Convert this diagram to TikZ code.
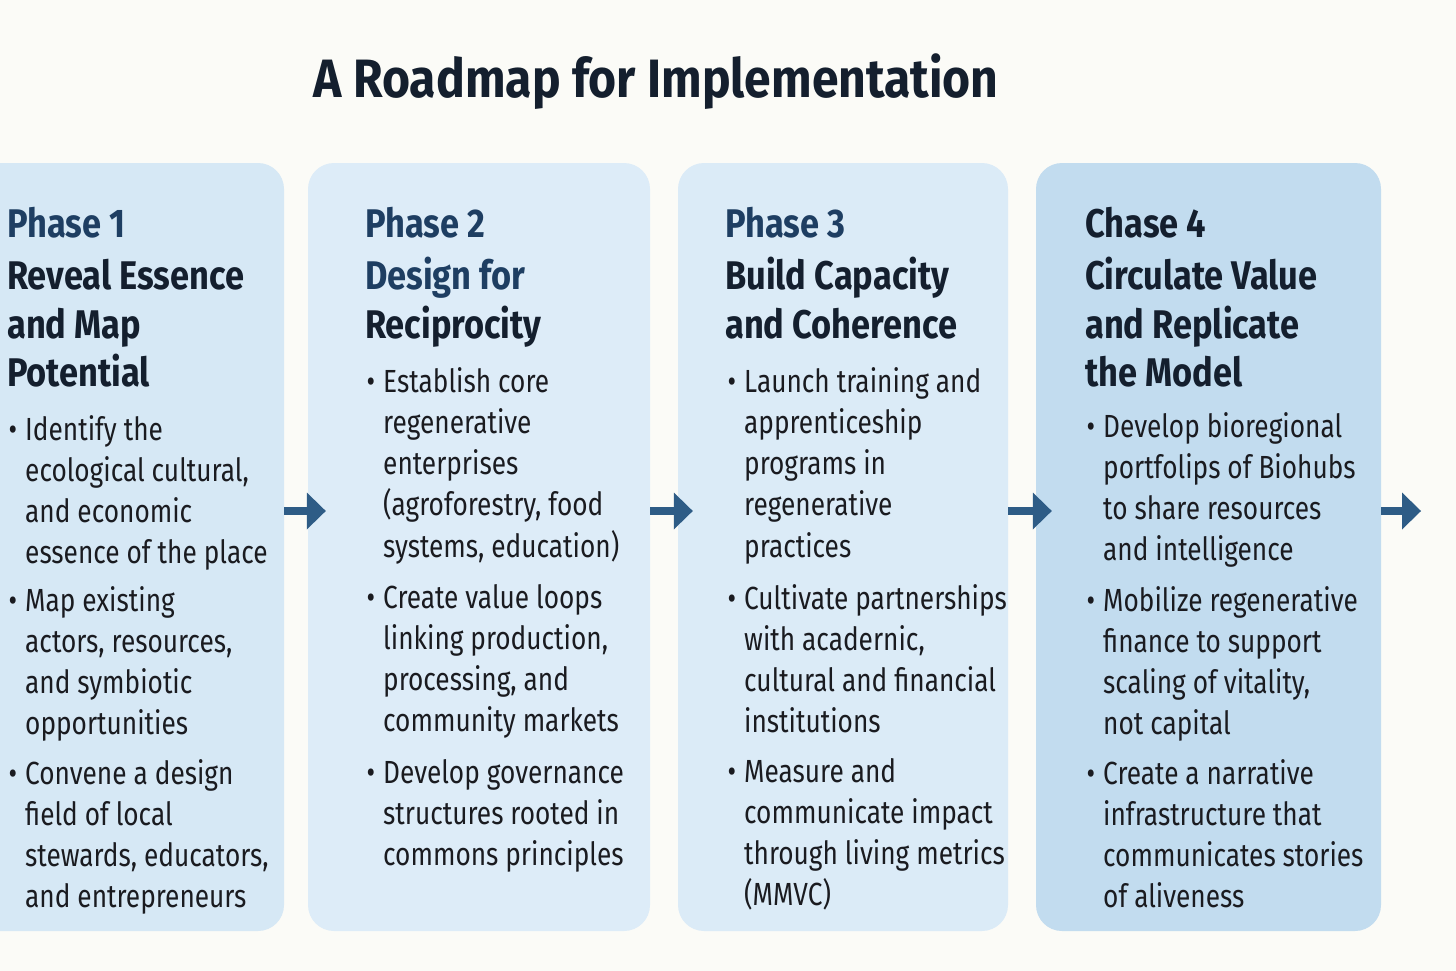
\documentclass[tikz,border=0pt]{standalone}
\usepackage{fontspec}
\usepackage{xcolor}
\usepackage{tikz}
\usetikzlibrary{arrows.meta}
\usetikzlibrary{positioning}
\newfontfamily\titlefont[FakeStretch=0.89]{Fira Sans}
\newfontfamily\headfont[FakeStretch=0.86]{Fira Sans}
\newfontfamily\bodyfont[FakeStretch=0.82]{Fira Sans}
\definecolor{bgpaper}{RGB}{251,251,247}
\definecolor{boxa}{RGB}{214,232,245}
\definecolor{boxb}{RGB}{221,236,248}
\definecolor{boxc}{RGB}{219,235,247}
\definecolor{boxd}{RGB}{194,220,239}
\definecolor{headblue}{RGB}{30,62,98}
\definecolor{headdark}{RGB}{20,31,46}
\definecolor{bodytxt}{RGB}{26,27,32}
\definecolor{arrowblue}{RGB}{46,92,134}
\newcommand{\itemlines}[1]{\begin{tabular}[t]{@{}l@{}}#1\end{tabular}}
\newcommand{\bulmark}{\llap{\textbullet\hspace{8pt}}}
\tikzset{
	phasebox/.style={rectangle, rounded corners=26pt, minimum width=#1, minimum height=768pt, inner sep=0pt},
	headtext/.style={anchor=base west, inner sep=0pt, font=\headfont\bfseries\fontsize{40}{48.5}\selectfont, text=headdark},
	itemtext/.style={anchor=base west, inner sep=0pt, font=\bodyfont\fontsize{32}{41.3}\selectfont, text=bodytxt},
	bigarrow/.style={draw=arrowblue, line width=8.5pt, -{Triangle[length=19pt, width=37pt, line width=0pt]}}
}

\begin{document}
\begin{tikzpicture}[x=1pt, y=-1pt]
	\useasboundingbox (0,0) rectangle (1456,971);
	\fill[bgpaper] (0,0) rectangle (1456,971);
	\clip (0,0) rectangle (1456,971);

	\node[inner sep=0pt, anchor=base, font=\titlefont\bfseries\fontsize{54}{60}\selectfont, text=headdark] at (656,98) (title) {A Roadmap for Implementation};

	% the four phases
	\node[phasebox=324pt, fill=boxa] at (122,547) (box1) {};
	\node[phasebox=342pt, fill=boxb] at (479,547) (box2) {};
	\node[phasebox=330pt, fill=boxc] at (843,547) (box3) {};
	\node[phasebox=345pt, fill=boxd] at (1208.5,547) (box4) {};

	\node[headtext] at (7,237) (h1) {\itemlines{\textcolor{headblue}{Phase 1}\\[4pt] Reveal Essence\\ and Map\\ Potential}};
	\node[headtext] at (365,237) (h2) {\itemlines{\textcolor{headblue}{Phase 2}\\[4pt] \textcolor{headblue}{Design for}\\ Reciprocity}};
	\node[headtext] at (725,237) (h3) {\itemlines{\textcolor{headblue}{Phase 3}\\[4pt] Build Capacity\\ and Coherence}};
	\node[headtext] at (1085,237) (h4) {\itemlines{Chase 4\\[4pt] Circulate Value\\ and Replicate\\ the Model}};

	\node[itemtext] at (25,440) (p1a) {\itemlines{\bulmark Identify the\\ ecological cultural,\\ and economic\\ essence of the place}};
	\node[itemtext] at (25,611) (p1b) {\itemlines{\bulmark Map existing\\ actors, resources,\\ and symbiotic\\ opportunities}};
	\node[itemtext] at (25,784) (p1c) {\itemlines{\bulmark Convene a design\\ field of local\\ stewards, educators,\\ and entrepreneurs}};

	\node[itemtext] at (383,392) (p2a) {\itemlines{\bulmark Establish core\\ regenerative\\ enterprises\\ (agroforestry, food\\ systems, education)}};
	\node[itemtext] at (383,608) (p2b) {\itemlines{\bulmark Create value loops\\ linking production,\\ processing, and\\ community markets}};
	\node[itemtext] at (383,783) (p2c) {\itemlines{\bulmark Develop governance\\ structures rooted in\\ commons principles}};

	\node[itemtext] at (744,392) (p3a) {\itemlines{\bulmark Launch training and\\ apprenticeship\\ programs in\\ regenerative\\ practices}};
	\node[itemtext] at (744,609) (p3b) {\itemlines{\bulmark Cultivate partnerships\\ with acadernic,\\ cultural and financial\\ institutions}};
	\node[itemtext] at (744,782) (p3c) {\itemlines{\bulmark Measure and\\ communicate impact\\ through living metrics\\ (MMVC)}};

	\node[itemtext] at (1103,437) (p4a) {\itemlines{\bulmark Develop bioregional\\ portfolips of Biohubs\\ to share resources\\ and intelligence}};
	\node[itemtext] at (1103,611) (p4b) {\itemlines{\bulmark Mobilize regenerative\\ finance to support\\ scaling of vitality,\\ not capital}};
	\node[itemtext] at (1103,784) (p4c) {\itemlines{\bulmark Create a narrative\\ infrastructure that\\ communicates stories\\ of aliveness}};

	% arrows between phases
	\coordinate (next) at (1421,511);
	\draw[bigarrow, shorten >=-18pt] ([yshift=36pt]box1.east) -- ([yshift=36pt]box2.west);
	\draw[bigarrow, shorten >=-15pt] ([yshift=36pt]box2.east) -- ([yshift=36pt]box3.west);
	\draw[bigarrow, shorten >=-16pt] ([yshift=36pt]box3.east) -- ([yshift=36pt]box4.west);
	\draw[bigarrow] ([yshift=36pt]box4.east) -- (next);
\end{tikzpicture}
\end{document}
